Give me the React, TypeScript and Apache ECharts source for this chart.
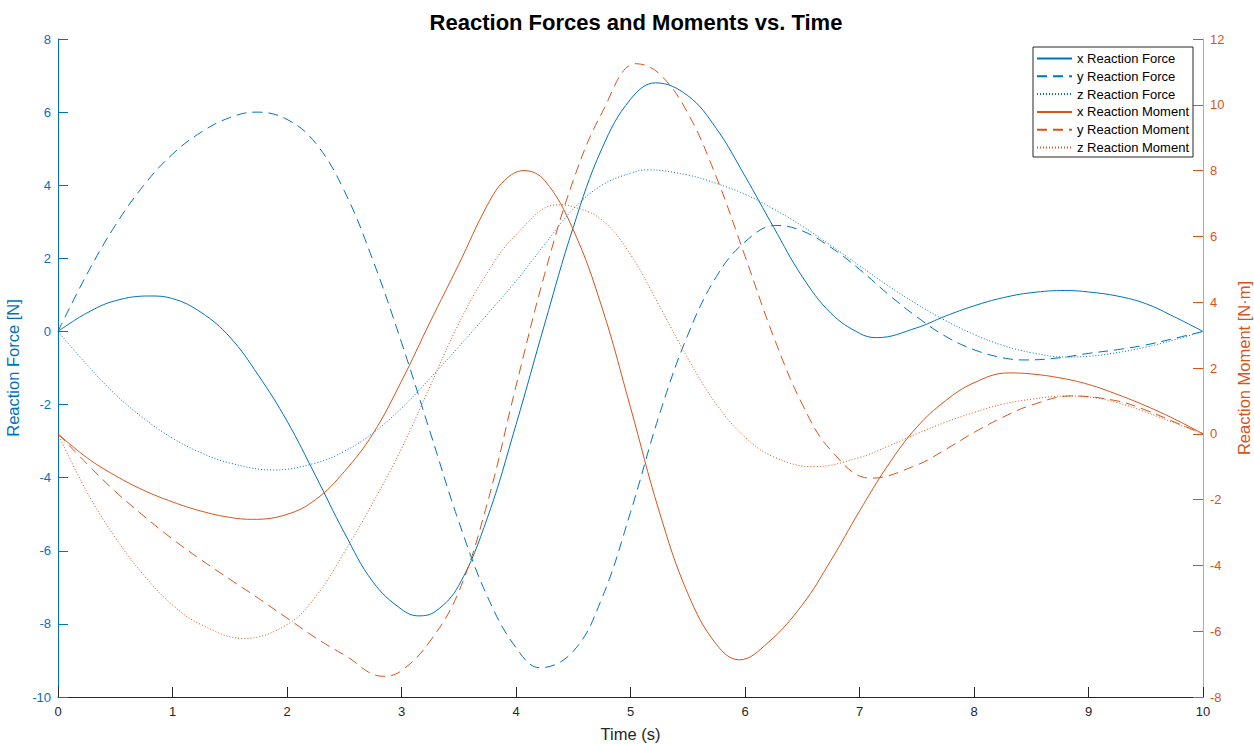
import React, { useEffect, useRef } from 'react';
import * as echarts from 'echarts';

// x Reaction Force [N]
const xForceT = [0, 0.25, 0.5, 0.8, 1, 1.25, 1.5, 1.75, 2, 2.25, 2.5, 2.75, 3, 3.15, 3.3, 3.5, 3.75, 4, 4.25, 4.5, 4.75, 5, 5.22, 5.5, 5.75, 6, 6.25, 6.5, 6.75, 7, 7.15, 7.5, 7.75, 8, 8.25, 8.5, 8.8, 9, 9.25, 9.5, 9.75, 10];
const xForceV = [0, 0.5, 0.84, 0.97, 0.9, 0.52, -0.15, -1.2, -2.45, -3.95, -5.5, -6.85, -7.6, -7.78, -7.65, -6.95, -5.1, -2.55, 0.2, 2.85, 5.0, 6.35, 6.8, 6.45, 5.55, 4.25, 2.85, 1.5, 0.5, -0.05, -0.17, 0.1, 0.42, 0.7, 0.92, 1.06, 1.12, 1.08, 0.97, 0.76, 0.4, 0];

// y Reaction Force [N]
const yForceT = [0, 0.25, 0.5, 0.75, 1, 1.25, 1.5, 1.73, 2, 2.25, 2.5, 2.75, 3, 3.25, 3.5, 3.75, 4, 4.21, 4.5, 4.75, 5, 5.25, 5.5, 5.75, 6, 6.27, 6.5, 6.75, 7, 7.25, 7.5, 7.75, 8, 8.25, 8.45, 8.75, 9, 9.25, 9.5, 9.75, 10];
const yForceV = [0, 1.55, 2.9, 4.0, 4.85, 5.45, 5.85, 6.0, 5.8, 5.15, 3.85, 1.95, -0.3, -2.75, -5.2, -7.25, -8.65, -9.2, -8.75, -7.3, -4.95, -2.3, -0.1, 1.5, 2.45, 2.9, 2.75, 2.3, 1.7, 1.02, 0.4, -0.13, -0.5, -0.72, -0.78, -0.72, -0.6, -0.5, -0.37, -0.19, 0];

// z Reaction Force [N]
const zForceT = [0, 0.25, 0.5, 0.75, 1, 1.25, 1.5, 1.88, 2.25, 2.5, 2.75, 3, 3.25, 3.5, 3.75, 4, 4.25, 4.5, 4.75, 5, 5.15, 5.5, 5.75, 6, 6.25, 6.5, 6.75, 7, 7.25, 7.5, 7.75, 8, 8.25, 8.5, 8.8, 9, 9.25, 9.5, 9.75, 10];
const zForceV = [0, -0.9, -1.72, -2.38, -2.92, -3.32, -3.6, -3.79, -3.6, -3.28, -2.78, -2.1, -1.28, -0.42, 0.47, 1.38, 2.38, 3.35, 4.0, 4.33, 4.42, 4.28, 4.05, 3.75, 3.35, 2.88, 2.35, 1.8, 1.25, 0.75, 0.3, -0.08, -0.38, -0.58, -0.7, -0.68, -0.58, -0.43, -0.23, 0];

// x Reaction Moment [N·m]
const xMomentT = [0, 0.25, 0.5, 0.75, 1, 1.25, 1.5, 1.7, 2, 2.25, 2.5, 2.75, 3, 3.25, 3.5, 3.75, 3.9, 4.07, 4.25, 4.5, 4.75, 5, 5.25, 5.5, 5.75, 5.95, 6.2, 6.5, 6.75, 7, 7.25, 7.5, 7.75, 8, 8.3, 8.5, 8.75, 9, 9.25, 9.5, 9.75, 10];
const xMomentV = [0, -0.72, -1.27, -1.72, -2.07, -2.35, -2.54, -2.6, -2.45, -2.0, -1.15, 0.0, 1.6, 3.4, 5.15, 6.95, 7.7, 8.0, 7.7, 6.2, 3.85, 0.8, -2.35, -4.85, -6.4, -6.87, -6.35, -5.2, -3.85, -2.35, -0.95, 0.2, 1.0, 1.55, 1.85, 1.82, 1.7, 1.5, 1.2, 0.85, 0.45, 0];

// y Reaction Moment [N·m]
const yMomentT = [0, 0.25, 0.5, 0.75, 1, 1.25, 1.5, 1.75, 2, 2.25, 2.5, 2.84, 3, 3.25, 3.5, 3.75, 4, 4.25, 4.5, 4.75, 5.05, 5.25, 5.5, 5.75, 6, 6.25, 6.5, 6.75, 7.1, 7.5, 7.75, 8, 8.25, 8.5, 8.85, 9.25, 9.5, 9.75, 10];
const yMomentV = [0, -0.9, -1.75, -2.5, -3.2, -3.83, -4.42, -5.0, -5.6, -6.2, -6.72, -7.37, -7.2, -6.3, -4.8, -2.1, 1.45, 4.85, 7.7, 9.75, 11.25, 10.95, 9.75, 7.8, 5.4, 2.95, 0.9, -0.5, -1.35, -0.95, -0.48, 0.04, 0.5, 0.87, 1.15, 1.0, 0.72, 0.36, 0];

// z Reaction Moment [N·m]
const zMomentT = [0, 0.25, 0.5, 0.75, 1, 1.25, 1.62, 2, 2.25, 2.5, 2.75, 3, 3.25, 3.5, 3.75, 4, 4.36, 4.5, 4.75, 5, 5.25, 5.5, 5.75, 6, 6.25, 6.6, 7, 7.25, 7.5, 7.75, 8, 8.25, 8.5, 8.8, 9, 9.25, 9.5, 9.75, 10];
const zMomentV = [0, -1.75, -3.15, -4.3, -5.2, -5.8, -6.22, -5.8, -4.95, -3.6, -2.1, -0.45, 1.45, 3.35, 4.9, 6.05, 6.96, 6.9, 6.5, 5.45, 3.9, 2.3, 0.9, -0.1, -0.7, -1.0, -0.72, -0.38, 0.0, 0.35, 0.65, 0.9, 1.05, 1.15, 1.12, 0.95, 0.66, 0.33, 0];

const seriesNames = ['x Reaction Force', 'y Reaction Force', 'z Reaction Force', 'x Reaction Moment', 'y Reaction Moment', 'z Reaction Moment'];

const BLUE = '#0072BD';
const ORANGE = '#D95319';
const FONT = '"Liberation Sans", Arial, Helvetica, sans-serif';

function pairs(ts: number[], vs: number[]) {
  return ts.map((t, i) => [t, vs[i]]);
}

function makeSeries(name: string, ts: number[], vs: number[], axis: number, color: string, type: any) {
  return {
    name,
    type: 'line',
    yAxisIndex: axis,
    data: pairs(ts, vs),
    smooth: 0.4,
    showSymbol: false,
    symbol: 'none',
    color,
    lineStyle: { color, width: 1, type },
  };
}

export default function App() {
  const ref = useRef<HTMLDivElement>(null);
  useEffect(() => {
    const chart = echarts.init(ref.current!, null, { renderer: 'svg' });
    const dashed = [10, 6];
    const dotted = [1, 2];
    chart.setOption({
      animation: false,
      backgroundColor: '#fff',
      title: {
        text: 'Reaction Forces and Moments vs. Time',
        left: 631,
        textAlign: 'center',
        top: 6,
        textStyle: { fontFamily: FONT, fontSize: 22, fontWeight: 'bold', color: '#000' },
      },
      legend: {
        orient: 'vertical',
        right: 61,
        top: 47,
        data: seriesNames,
        itemWidth: 35,
        itemHeight: 14,
        itemGap: 4.8,
        padding: [5, 4, 3, 3],
        backgroundColor: '#fff',
        borderColor: '#262626',
        borderWidth: 1,
        borderRadius: 0,
        itemStyle: { opacity: 0 },
        textStyle: { fontFamily: FONT, fontSize: 13, color: '#000' },
      },
      grid: { left: 58, right: 51, top: 39, bottom: 47, containLabel: false, outerBoundsMode: 'none' },
      xAxis: {
        type: 'value',
        min: 0,
        max: 10,
        interval: 1,
        name: 'Time (s)',
        nameLocation: 'middle',
        nameGap: 28,
        nameTextStyle: { fontFamily: FONT, fontSize: 16.5, color: '#262626' },
        axisLine: { onZero: false, lineStyle: { color: '#262626', width: 1 } },
        axisTick: { inside: true, length: 10, lineStyle: { color: '#262626' } },
        axisLabel: { fontFamily: FONT, fontSize: 13, color: '#262626', margin: 8 },
        splitLine: { show: false },
      },
      yAxis: [
        {
          type: 'value',
          position: 'left',
          min: -10,
          max: 8,
          interval: 2,
          name: 'Reaction Force [N]',
          nameLocation: 'middle',
          nameRotate: 90,
          nameGap: 31,
          nameTextStyle: { fontFamily: FONT, fontSize: 16.5, color: BLUE },
          axisLine: { show: true, onZero: false, lineStyle: { color: BLUE, width: 1 } },
          axisTick: { show: true, inside: true, length: 10, lineStyle: { color: BLUE } },
          axisLabel: { fontFamily: FONT, fontSize: 13, color: BLUE, margin: 7 },
          splitLine: { show: false },
        },
        {
          type: 'value',
          position: 'right',
          min: -8,
          max: 12,
          interval: 2,
          name: 'Reaction Moment [N·m]',
          nameLocation: 'middle',
          nameRotate: 90,
          nameGap: 27,
          nameTextStyle: { fontFamily: FONT, fontSize: 16.5, color: ORANGE },
          axisLine: { show: true, onZero: false, lineStyle: { color: ORANGE, width: 1, opacity: 0.6 } },
          axisTick: { show: true, inside: true, length: 10, lineStyle: { color: ORANGE } },
          axisLabel: { fontFamily: FONT, fontSize: 13, color: ORANGE, margin: 7 },
          splitLine: { show: false },
        },
      ],
      series: [
        makeSeries(seriesNames[0], xForceT, xForceV, 0, BLUE, 'solid'),
        makeSeries(seriesNames[1], yForceT, yForceV, 0, BLUE, dashed),
        makeSeries(seriesNames[2], zForceT, zForceV, 0, BLUE, dotted),
        makeSeries(seriesNames[3], xMomentT, xMomentV, 1, ORANGE, 'solid'),
        makeSeries(seriesNames[4], yMomentT, yMomentV, 1, ORANGE, dashed),
        makeSeries(seriesNames[5], zMomentT, zMomentV, 1, ORANGE, dotted),
      ],
    });
    return () => chart.dispose();
  }, []);
  return (
    <div
      ref={ref}
      style={{ position: 'fixed', left: 0, top: 0, width: 1254, height: 744, background: '#fff' }}
    />
  );
}
